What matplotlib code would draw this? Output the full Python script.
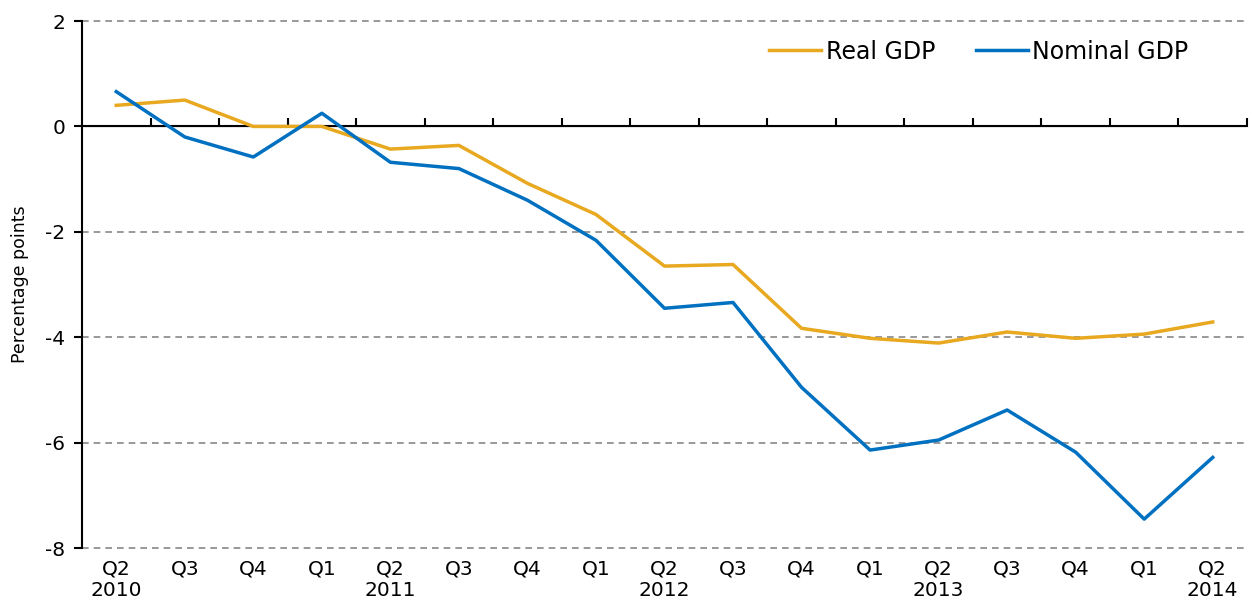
import matplotlib.pyplot as plt

quarters = ["Q2", "Q3", "Q4", "Q1", "Q2", "Q3", "Q4", "Q1", "Q2", "Q3", "Q4",
            "Q1", "Q2", "Q3", "Q4", "Q1", "Q2"]
years = ["2010", "", "", "", "2011", "", "", "", "2012", "", "", "", "2013", "", "", "", "2014"]
real_gdp = [0.40, 0.50, 0.0, 0.0, -0.43, -0.36, -1.08, -1.67, -2.65, -2.62, -3.83,
            -4.02, -4.11, -3.90, -4.02, -3.94, -3.71]
nominal_gdp = [0.66, -0.20, -0.58, 0.25, -0.68, -0.80, -1.40, -2.16, -3.45, -3.34, -4.95,
               -6.14, -5.95, -5.38, -6.18, -7.45, -6.28]

plt.rcParams['font.family'] = ['DejaVu Sans']
plt.rcParams['axes.unicode_minus'] = False

fig = plt.figure(figsize=(12.52, 6.09), dpi=100)
ax = fig.add_axes([0.0655, 0.100, 0.9305, 0.8655])

x = list(range(len(quarters)))
ax.plot(x, real_gdp, color="#E8A820", lw=2.5, label="Real GDP")
ax.plot(x, nominal_gdp, color="#0070C0", lw=2.5, label="Nominal GDP")

ax.set_xlim(-0.5, len(quarters) - 0.5)
ax.set_ylim(-8, 2)
ax.set_yticks([-8, -6, -4, -2, 0, 2])
for v in [-8, -6, -4, -2, 2]:
    ax.axhline(v, color="#888888", lw=1.2, ls=(0, (4, 3)), zorder=0, clip_on=False)
ax.axhline(0, color="black", lw=1.5, zorder=1)

for s in ["top", "right", "bottom"]:
    ax.spines[s].set_visible(False)
ax.spines["left"].set_linewidth(1.5)

ax.set_xticks(x)
ax.set_xticklabels([q + "\n" + y for q, y in zip(quarters, years)])
ax.tick_params(axis="x", length=0, pad=8, labelsize=14.5)
ax.tick_params(axis="y", length=6, width=1.5, labelsize=14.5, pad=6)

# tick marks between quarters on the zero line
sec = ax.secondary_xaxis(0.8)
sec.set_xticks([i + 0.5 for i in x])
sec.set_xticklabels([])
sec.tick_params(length=6, width=1.5, direction="out")
sec.spines["bottom"].set_visible(False)

ax.set_ylabel("Percentage points", fontsize=12.5, labelpad=12)
ax.legend(ncol=2, frameon=False, loc="upper right", bbox_to_anchor=(0.968, 1.005),
          fontsize=17, handlelength=2.2, handletextpad=0.2, columnspacing=1.7)

plt.savefig("out.png")
